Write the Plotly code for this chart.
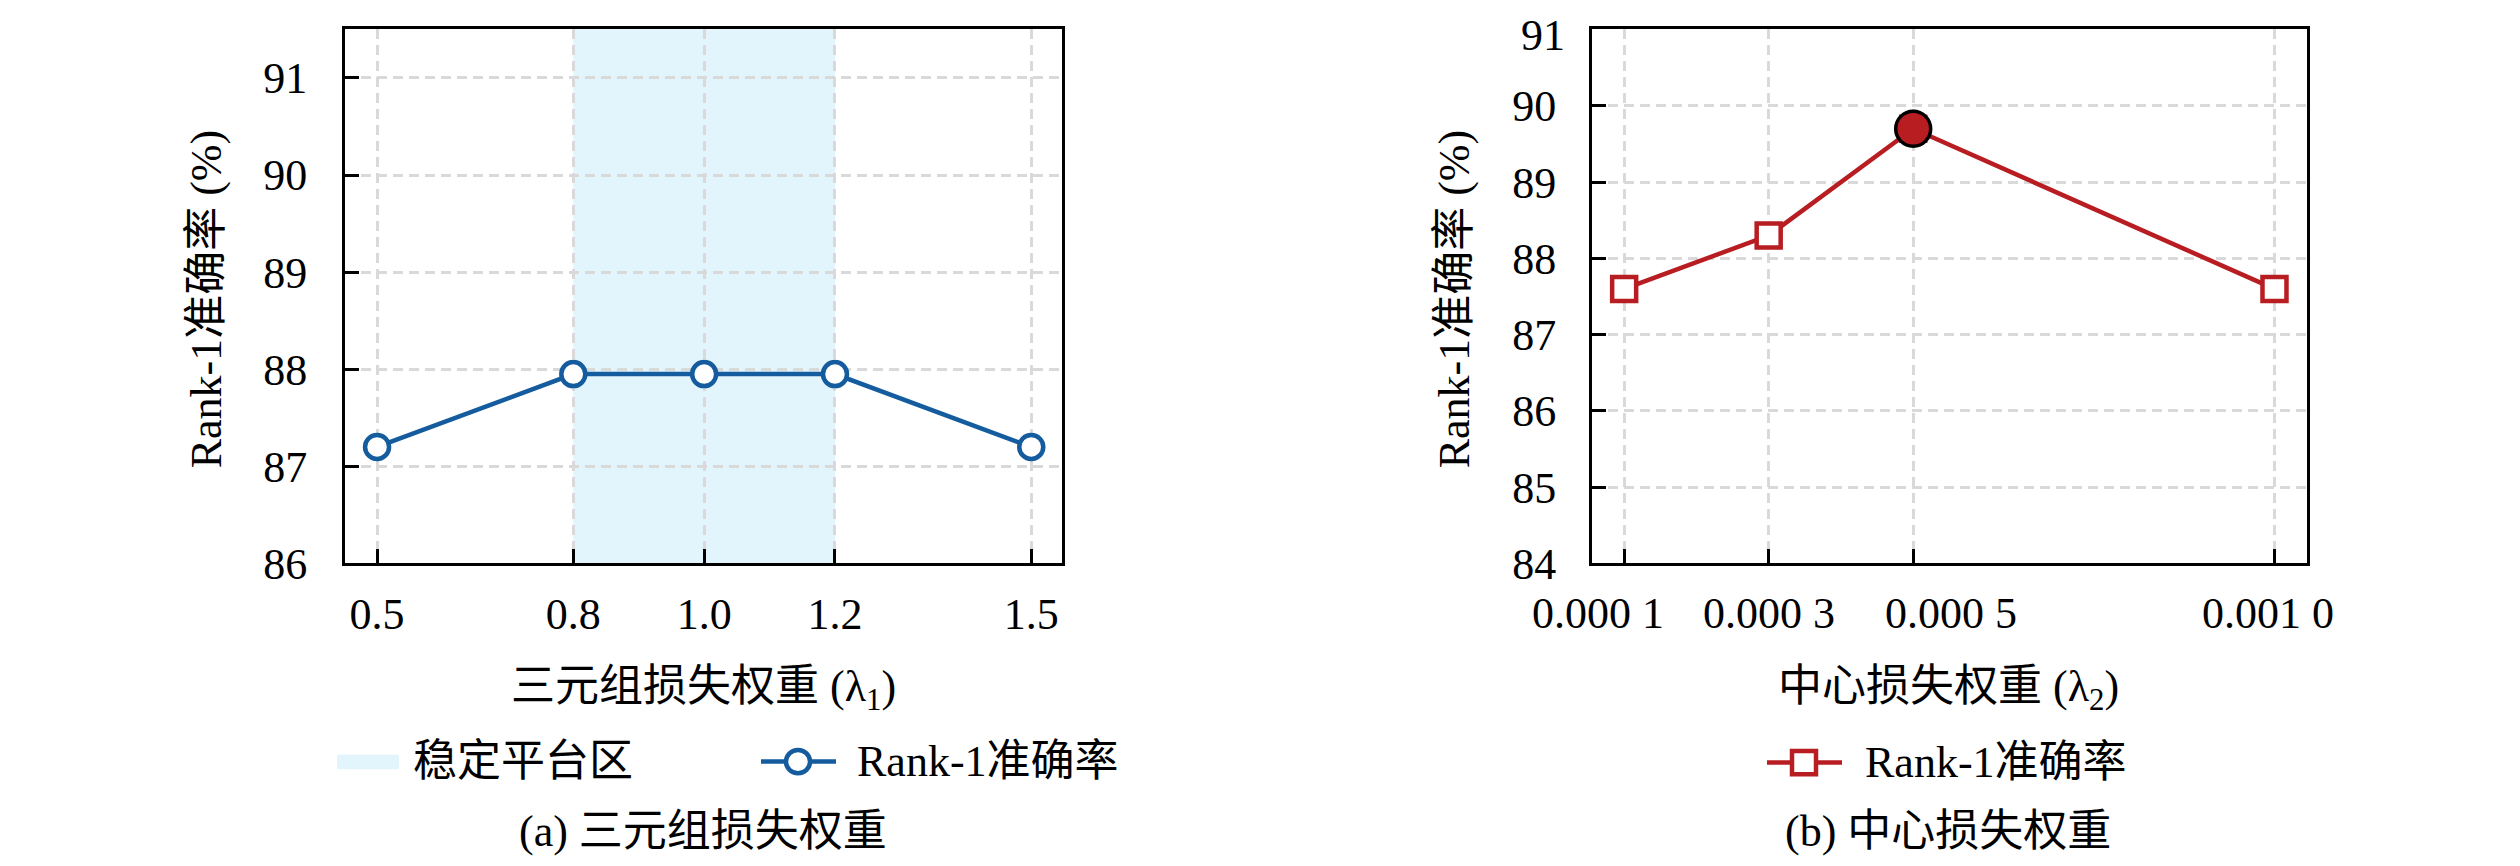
import plotly.graph_objects as go

# ---------------- data ----------------
lambda1 = [0.5, 0.8, 1.0, 1.2, 1.5]
acc1 = [87.2, 87.95, 87.95, 87.95, 87.2]
lambda1_ticktext = ["0.5", "0.8", "1.0", "1.2", "1.5"]
plateau = [0.8, 1.2]

lambda2 = [0.0001, 0.0003, 0.0005, 0.0010]
acc2 = [87.6, 88.3, 89.7, 87.6]
lambda2_ticktext = ["0.000 1", "0.000 3", "0.000 5", "0.001 0"]
best_idx = 2

yticks1 = [86, 87, 88, 89, 90, 91]
yticks2 = [84, 85, 86, 87, 88, 89, 90, 91]

# ---------------- style ----------------
W, H = 2520, 866
FONT = "Liberation Serif, 'Noto Sans CJK SC', serif"
FS = 44
BLUE = "#145c9e"
RED = "#b81d22"
BAND = "#e2f4fc"
GRID = "#d9d9d9"


def px(x):
    return x / W


def py(y):
    return 1 - y / H


fig = go.Figure()

# left panel
fig.add_trace(go.Scatter(
    x=lambda1, y=acc1, mode="lines+markers", xaxis="x", yaxis="y",
    line=dict(color=BLUE, width=4.5),
    marker=dict(symbol="circle", size=24, color="white",
                line=dict(color=BLUE, width=4.5)),
    name="Rank-1准确率", showlegend=False, cliponaxis=False))

# right panel
fig.add_trace(go.Scatter(
    x=lambda2, y=acc2, mode="lines+markers", xaxis="x2", yaxis="y2",
    line=dict(color=RED, width=4.5),
    marker=dict(symbol="square", size=24, color="white",
                line=dict(color=RED, width=4.5)),
    name="Rank-1准确率", showlegend=False, cliponaxis=False))

fig.add_trace(go.Scatter(
    x=[lambda2[best_idx]], y=[acc2[best_idx]], mode="markers",
    xaxis="x2", yaxis="y2",
    marker=dict(symbol="circle", size=35, color=RED,
                line=dict(color="black", width=3.5)),
    showlegend=False, cliponaxis=False))

# plateau band
fig.add_shape(type="rect", xref="x", yref="y domain",
              x0=plateau[0], x1=plateau[1], y0=0, y1=1,
              fillcolor=BAND, line=dict(width=0), layer="below")

axis_common = dict(
    showline=True, linecolor="black", linewidth=3, mirror=True,
    ticks="inside", ticklen=14, tickwidth=3, tickcolor="black",
    showgrid=True, gridcolor=GRID, gridwidth=2.5, griddash="10px,6px",
    zeroline=False,
    tickfont=dict(family=FONT, size=FS, color="black"),
)

fig.update_layout(
    width=W, height=H, margin=dict(l=0, r=0, t=0, b=0),
    paper_bgcolor="white", plot_bgcolor="white",
    font=dict(family=FONT, size=FS, color="black"),
    xaxis=dict(domain=[px(337), px(1054)], range=[0.451, 1.547],
               tickvals=lambda1, ticktext=lambda1_ticktext,
               ticklabelstandoff=10, anchor="y", **axis_common),
    yaxis=dict(domain=[py(572), py(22)], range=[86, 91.5],
               tickvals=yticks1, ticklabelstandoff=26, anchor="x",
               **axis_common),
    xaxis2=dict(domain=[px(1584), px(2299)], range=[0.0000555, 0.001045],
                tickvals=lambda2, showticklabels=False, anchor="y2",
                **axis_common),
    yaxis2=dict(domain=[py(572), py(22)], range=[84, 91.003],
                tickvals=yticks2, ticklabelstandoff=24, anchor="x2",
                **axis_common),
    showlegend=False,
)

# top tick label of the right panel sits on the frame edge; draw it as text
top_tick = max(yticks2)
fig.add_annotation(x=0, xref="x2 domain", y=top_tick, yref="y2",
                   text=str(top_tick), showarrow=False, xshift=-25, yshift=-6,
                   xanchor="right", yanchor="middle",
                   font=dict(family=FONT, size=FS, color="black"))

# right panel x tick labels (nudged like the original to avoid crowding)
label_shift = [-26, 0, 38, -6]
for xv, txt, sh in zip(lambda2, lambda2_ticktext, label_shift):
    fig.add_annotation(x=xv, xref="x2", y=py(624), yref="paper",
                       text=txt, showarrow=False, xshift=sh,
                       xanchor="center", yanchor="middle",
                       font=dict(family=FONT, size=FS, color="black"))


def text(x, y, s, anchor="center", angle=0, size=FS):
    fig.add_annotation(x=px(x), y=py(y), xref="paper", yref="paper",
                       text=s, showarrow=False, xanchor=anchor,
                       yanchor="middle", textangle=angle,
                       font=dict(family=FONT, size=size, color="black"))


# axis titles
text(695, 702, "三元组损失权重 (λ<sub>1</sub>)")
text(1940, 702, "中心损失权重 (λ<sub>2</sub>)")
text(198, 300, "Rank-1准确率 (%)", angle=-90)
text(1446, 300, "Rank-1准确率 (%)", angle=-90)

# legends (drawn as keys + labels)
ly1, ly2 = 776, 777
fig.add_shape(type="rect", xref="paper", yref="paper",
              x0=px(329), x1=px(391), y0=py(ly1 + 8), y1=py(ly1 - 7),
              fillcolor=BAND, line=dict(width=0))
text(403, ly1, "稳定平台区", anchor="left")

fig.add_shape(type="line", xref="paper", yref="paper",
              x0=px(753), x1=px(828), y0=py(ly1), y1=py(ly1),
              line=dict(color=BLUE, width=4.5))
fig.add_shape(type="circle", xref="paper", yref="paper",
              x0=px(778), x1=px(802), y0=py(ly1 + 12), y1=py(ly1 - 12),
              fillcolor="white", line=dict(color=BLUE, width=4.5))
text(847, ly1, "Rank-1准确率", anchor="left")

fig.add_shape(type="line", xref="paper", yref="paper",
              x0=px(1759), x1=px(1834), y0=py(ly2), y1=py(ly2),
              line=dict(color=RED, width=4.5))
fig.add_shape(type="rect", xref="paper", yref="paper",
              x0=px(1784), x1=px(1808), y0=py(ly2 + 12), y1=py(ly2 - 12),
              fillcolor="white", line=dict(color=RED, width=4.5))
text(1855, ly2, "Rank-1准确率", anchor="left")

# captions
text(695, 848, "(a) 三元组损失权重")
text(1940, 848, "(b) 中心损失权重")

fig.write_html("out.html")
